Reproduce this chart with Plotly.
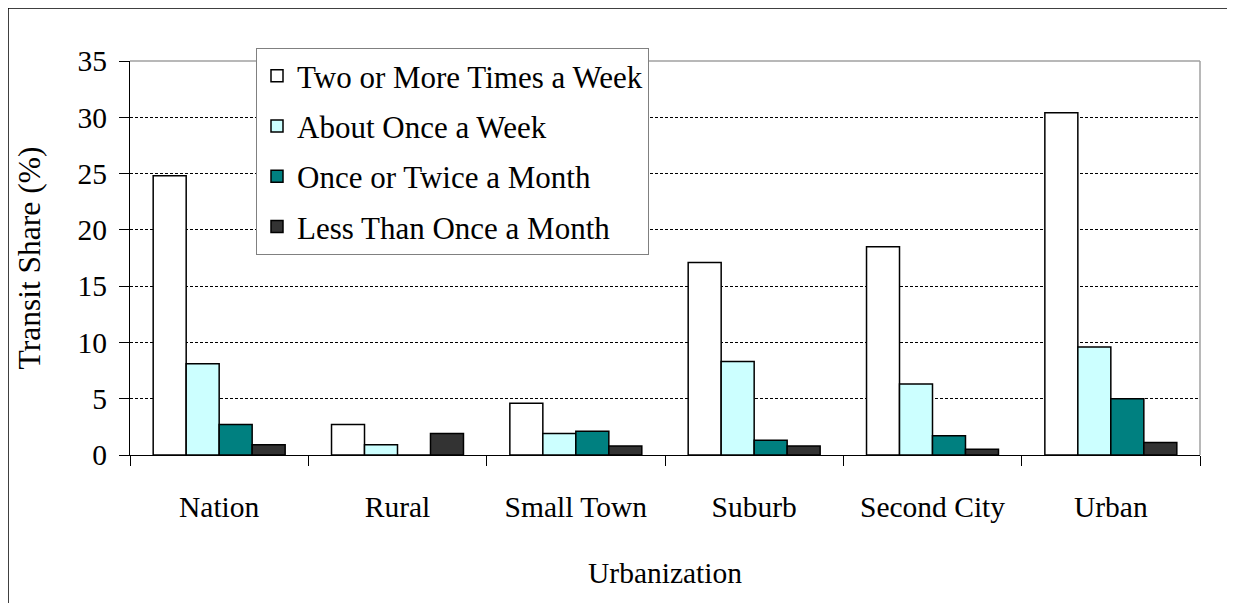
import plotly.graph_objects as go

categories = ["Nation", "Rural", "Small Town", "Suburb", "Second City", "Urban"]
two_or_more = [24.8, 2.7, 4.6, 17.1, 18.5, 30.4]
once_week = [8.1, 0.9, 1.9, 8.3, 6.3, 9.6]
once_twice_month = [2.7, 0.0, 2.1, 1.3, 1.7, 5.0]
less_once_month = [0.9, 1.9, 0.8, 0.8, 0.5, 1.1]

series_names = ["Two or More Times a Week", "About Once a Week",
                "Once or Twice a Month", "Less Than Once a Month"]
series_values = [two_or_more, once_week, once_twice_month, less_once_month]
series_colors = ["#FFFFFF", "#CCFFFF", "#008080", "#333333"]

FONT = "Liberation Serif"

fig = go.Figure()
for i, (name, vals, col) in enumerate(zip(series_names, series_values, series_colors)):
    fig.add_trace(go.Bar(
        x=categories, y=vals, name=name, legendgroup=f"g{i}",
        marker=dict(color=col, line=dict(color="#000000", width=1.5)),
    ))

# page offset (browser body margin) is 8px
OFF = 8
W, H = 1227, 595
PL, PR, PT, PB = 130, 1200, 61, 455  # plot area in page pixels
L, T = PL - OFF, PT - OFF
R = OFF + W - PR
B = OFF + H - PB
pw, ph = PR - PL, PB - PT

def px_x(p):
    return (p - PL) / pw

def px_y(p):
    return (PB - p) / ph

fig.update_layout(
    width=W, height=H,
    margin=dict(l=L, r=R, t=T, b=B, autoexpand=False),
    paper_bgcolor="white", plot_bgcolor="white",
    barmode="group", bargap=0.26, bargroupgap=0,
    font=dict(family=FONT, size=29.5, color="#000"),
    showlegend=True,
    legend=dict(
        x=px_x(256), y=px_y(48), xanchor="left", yanchor="top",
        bgcolor="white", bordercolor="#808080", borderwidth=1,
        font=dict(family=FONT, size=31, color="#000"),
        traceorder="grouped", tracegroupgap=7,
    ),
    xaxis=dict(
        title=dict(text="Urbanization", font=dict(family=FONT, size=29.5), standoff=39),
        tickfont=dict(family=FONT, size=29.5),
        showline=True, linecolor="#000", linewidth=1,
        ticks="outside", ticklen=10, tickcolor="#000", tickson="boundaries",
        ticklabelstandoff=26,
        showgrid=False, zeroline=False,
    ),
    yaxis=dict(
        title=dict(text="Transit Share (%)", font=dict(family=FONT, size=31.5), standoff=27),
        tickfont=dict(family=FONT, size=29.5),
        range=[0, 35], dtick=5, tick0=0,
        showline=True, linecolor="#000", linewidth=1,
        ticks="outside", ticklen=10, tickcolor="#000",
        ticklabelstandoff=6,
        showgrid=True, gridcolor="#000", gridwidth=1, griddash="3px,2px",
        zeroline=False,
    ),
    shapes=[
        dict(type="line", xref="paper", yref="paper", x0=0, x1=1, y0=1, y1=1,
             line=dict(color="#A0A0A0", width=1.5), layer="above"),
        dict(type="line", xref="paper", yref="paper", x0=1, x1=1, y0=0, y1=1,
             line=dict(color="#A0A0A0", width=1.5), layer="above"),
        dict(type="line", xref="paper", yref="paper", x0=px_x(8), x1=px_x(1250),
             y0=px_y(8), y1=px_y(8), line=dict(color="#000", width=1.5)),
        dict(type="line", xref="paper", yref="paper", x0=px_x(8), x1=px_x(8),
             y0=px_y(8), y1=px_y(620), line=dict(color="#000", width=1.5)),
    ],
)

fig.write_html("out.html")
